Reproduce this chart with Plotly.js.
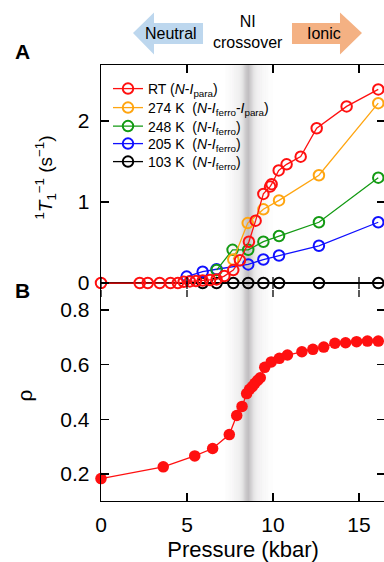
<!DOCTYPE html>
<html>
<head>
<meta charset="utf-8">
<script src="https://cdn.plot.ly/plotly-3.0.1.min.js"></script>
<style>
html,body{margin:0;padding:0;overflow:hidden;background:#fff;}
#chart{width:387px;height:562px;}
</style>
</head>
<body>
<div id="chart"></div>
<script>
// ---- Data ----
const xTicks = [0, 5, 10, 15];
const yTicksA = [0, 1, 2];
const yTicksB = [0.2, 0.4, 0.6, 0.8];

const seriesNames = [
  "103 K\u00a0 (<i>N</i>-<i>I</i><sub>ferro</sub>)",
  "205 K\u00a0 (<i>N</i>-<i>I</i><sub>ferro</sub>)",
  "248 K\u00a0 (<i>N</i>-<i>I</i><sub>ferro</sub>)",
  "274 K\u00a0 (<i>N</i>-<i>I</i><sub>ferro</sub>-<i>I</i><sub>para</sub>)",
  "RT (<i>N</i>-<i>I</i><sub>para</sub>)"
];
const seriesColors = ["#000000", "#1010ff", "#139a13", "#ffa510", "#ff1010"];

const p103 = [5.91, 6.72, 7.69, 8.56, 9.44, 10.35, 12.67, 16.12];
const t103 = [0, 0, 0, 0, 0, 0, 0, 0];

const p205 = [4.98, 5.91, 6.72, 8.56, 9.44, 10.35, 12.67, 16.12];
const t205 = [0.08, 0.14, 0.17, 0.23, 0.29, 0.34, 0.46, 0.75];

const p248 = [6.72, 7.65, 8.56, 9.44, 10.35, 12.67, 16.12];
const t248 = [0.16, 0.41, 0.41, 0.51, 0.58, 0.75, 1.30];

const p274 = [7.69, 8.53, 9.44, 10.35, 12.67, 16.12];
const t274 = [0.29, 0.74, 0.91, 1.02, 1.33, 2.22];

const pRT = [0, 2.25, 2.72, 3.41, 4.04, 4.47, 4.81, 5.17, 5.52, 5.91, 6.34, 6.72, 7.17,
             7.69, 8.08, 8.6, 8.99, 9.44, 9.83, 9.92, 10.33, 10.79, 11.61, 12.54, 14.28, 16.12];
const tRT = [0, 0, 0, 0, 0, 0, 0.015, 0.02, 0.025, 0.03, 0.037, 0.045, 0.086,
             0.16, 0.28, 0.51, 0.77, 1.10, 1.19, 1.22, 1.39, 1.465, 1.56, 1.91, 2.18, 2.39];

const pRho = [0, 3.62, 5.45, 6.49, 7.46, 7.89, 8.2, 8.47, 8.64, 8.8, 8.95, 9.1, 9.26,
              9.52, 9.9, 10.37, 10.84, 11.68, 12.32, 12.95, 13.6, 14.22, 14.86, 15.49, 16.12];
const rho  = [0.183, 0.226, 0.266, 0.293, 0.344, 0.414, 0.447, 0.494, 0.51, 0.52, 0.532, 0.542, 0.552,
              0.59, 0.61, 0.623, 0.635, 0.647, 0.656, 0.664, 0.678, 0.68, 0.684, 0.686, 0.686];

const crossoverCenter = 8.55;   // NI crossover pressure (kbar)

// ---- Geometry ----
const W = 387, H = 562, ML = 101, MR = 2, MT = 65, MB = 61;
const PW = W - ML - MR, PH = H - MT - MB;
const fx = p => (p - ML) / PW;
const fy = p => (H - MB - p) / PH;
const split = fy(290);
const FONT = "Liberation Sans, Arial, Helvetica, sans-serif";

// legend row centres (px), in series order 103K, 205K, 248K, 274K, RT
const legendRows = [162, 144, 126.5, 108, 89];
const legendIds = ["legend5", "legend4", "legend3", "legend2", "legend"];

// ---- Traces ----
const pA = [p103, p205, p248, p274, pRT];
const tA = [t103, t205, t248, t274, tRT];
const traces = [];
for (let i = 0; i < pA.length; i++) {
  traces.push({
    x: pA[i], y: tA[i], xaxis: "x", yaxis: "y",
    type: "scatter", mode: "lines+markers", name: seriesNames[i], legend: legendIds[i],
    line: {color: seriesColors[i], width: 1.3},
    marker: {symbol: "circle-open", size: 10.5, color: seriesColors[i], line: {width: 2, color: seriesColors[i]}},
    cliponaxis: false
  });
}
traces.push({
  x: pRho, y: rho, xaxis: "x2", yaxis: "y2",
  type: "scatter", mode: "lines+markers", showlegend: false,
  line: {color: "#ff1010", width: 1.3},
  marker: {symbol: "circle", size: 11.5, color: "#ff1010"},
  cliponaxis: false
});

// ---- Shapes ----
const shapes = [];
// gray crossover band (gradient built from strips)
const nStrip = 60, bandL = 7.2, bandR = 10.0;
for (let k = 0; k < nStrip; k++) {
  const a = bandL + (bandR - bandL) * k / nStrip;
  const b = bandL + (bandR - bandL) * (k + 1) / nStrip;
  const m = (a + b) / 2;
  const d = m - crossoverCenter;
  const op = 0.17 * Math.exp(-Math.pow(d / 0.85, 2)) + 0.32 * Math.exp(-Math.pow(d / 0.25, 2));
  shapes.push({type: "rect", xref: "x", yref: "paper", x0: a, x1: b, y0: 0, y1: 1,
               fillcolor: "rgba(120,115,120," + op.toFixed(3) + ")", line: {width: 0}, layer: "below"});
}
// crossing ticks on the zero line of panel A
xTicks.forEach(t => {
  shapes.push({type: "line", xref: "x", yref: "y", ysizemode: "pixel", yanchor: 0,
               x0: t, x1: t, y0: -6, y1: 6, line: {color: "#000", width: 1.3}});
});
// top ticks of panel B
xTicks.forEach(t => {
  shapes.push({type: "line", xref: "x2", yref: "y2 domain", ysizemode: "pixel", yanchor: 1,
               x0: t, x1: t, y0: 0, y1: -7, line: {color: "#000", width: 1.3}});
});
// arrows above the chart
const arrowPath = pts => "M " + pts.map(p => fx(p[0]).toFixed(4) + "," + fy(p[1]).toFixed(4)).join(" L ") + " Z";
shapes.push({type: "path", xref: "paper", yref: "paper", fillcolor: "#bdd7ee", line: {width: 0},
  path: arrowPath([[133,33],[154,12.5],[154,23],[203,23],[203,44],[154,44],[154,54.5]])});
shapes.push({type: "path", xref: "paper", yref: "paper", fillcolor: "#f4b183", line: {width: 0},
  path: arrowPath([[292,23],[340,23],[340,12.5],[362,33],[340,54.5],[340,44],[292,44]])});

// ---- Annotations ----
const ann = [
  {text: "Neutral", x: fx(171), y: fy(34), xref: "paper", yref: "paper", showarrow: false,
   font: {family: FONT, size: 16, color: "#000"}, xanchor: "center", yanchor: "middle"},
  {text: "Ionic", x: fx(324), y: fy(34), xref: "paper", yref: "paper", showarrow: false,
   font: {family: FONT, size: 16, color: "#000"}, xanchor: "center", yanchor: "middle"},
  {text: "NI<br>crossover", x: fx(248), y: fy(31.5), xref: "paper", yref: "paper", showarrow: false,
   font: {family: FONT, size: 16, color: "#000"}, xanchor: "center", yanchor: "middle"},
  {text: "<b>A</b>", x: fx(22), y: fy(51), xref: "paper", yref: "paper", showarrow: false,
   font: {family: FONT, size: 21, color: "#000"}, xanchor: "center", yanchor: "middle"},
  {text: "<b>B</b>", x: fx(22), y: fy(290), xref: "paper", yref: "paper", showarrow: false,
   font: {family: FONT, size: 21, color: "#000"}, xanchor: "center", yanchor: "middle"}
];

const xRange = [0, PW / 17.2];
const tickFont = {family: FONT, size: 21, color: "#000"};

const layout = {
  width: W, height: H,
  margin: {l: ML, r: MR, t: MT, b: MB, pad: 0},
  paper_bgcolor: "#fff", plot_bgcolor: "rgba(0,0,0,0)",
  font: {family: FONT, color: "#000"},
  showlegend: true,
  xaxis: {domain: [0, 1], range: xRange, anchor: "y", side: "top", showline: true, linecolor: "#000",
          linewidth: 1.3, ticks: "inside", ticklen: 8, tickwidth: 1.3, tickcolor: "#000",
          tickvals: xTicks, showticklabels: false, showgrid: false, zeroline: false, fixedrange: true},
  yaxis: {domain: [split, 1], range: [-0.086, 2.691], anchor: "x", showline: true, linecolor: "#000",
          linewidth: 1.3, mirror: "ticks", ticks: "inside", ticklen: 8, tickwidth: 1.3, tickcolor: "#000",
          tickvals: yTicksA, tickfont: tickFont, ticklabelstandoff: 6, showgrid: false,
          zeroline: true, zerolinecolor: "#000", zerolinewidth: 1.3,
          title: {text: "<sup>1</sup><i>T</i><sub>1</sub><sup>\u22121</sup> (s<sup>\u22121</sup>)",
                  font: {family: FONT, size: 19, color: "#000"}, standoff: 20}},
  xaxis2: {domain: [0, 1], range: xRange, anchor: "y2", side: "bottom", showline: true, linecolor: "#000",
           linewidth: 1.3, ticks: "inside", ticklen: 8, tickwidth: 1.3, tickcolor: "#000",
           tickvals: xTicks, tickfont: tickFont, ticklabelstandoff: 4, showgrid: false, zeroline: false,
           title: {text: "Pressure (kbar)", font: {family: FONT, size: 22, color: "#000"}, standoff: 11}},
  yaxis2: {domain: [0, split], range: [0.101, 0.873], anchor: "x2", showline: true, linecolor: "#000",
           linewidth: 1.3, mirror: "ticks", ticks: "inside", ticklen: 8, tickwidth: 1.3, tickcolor: "#000",
           tickvals: yTicksB, tickformat: ".1f", tickfont: tickFont, ticklabelstandoff: 6,
           showgrid: false, zeroline: false,
           title: {text: "\u03c1", font: {family: FONT, size: 21, color: "#000"}, standoff: 22}},
  shapes: shapes,
  annotations: ann
};
legendIds.forEach((id, i) => {
  layout[id] = {x: fx(108), y: fy(legendRows[i]), xanchor: "left", yanchor: "middle",
                bgcolor: "rgba(0,0,0,0)", font: {family: FONT, size: 14, color: "#000"},
                itemwidth: 30, borderwidth: 0};
});

Plotly.newPlot("chart", traces, layout, {displayModeBar: false, staticPlot: true});
</script>
</body>
</html>
